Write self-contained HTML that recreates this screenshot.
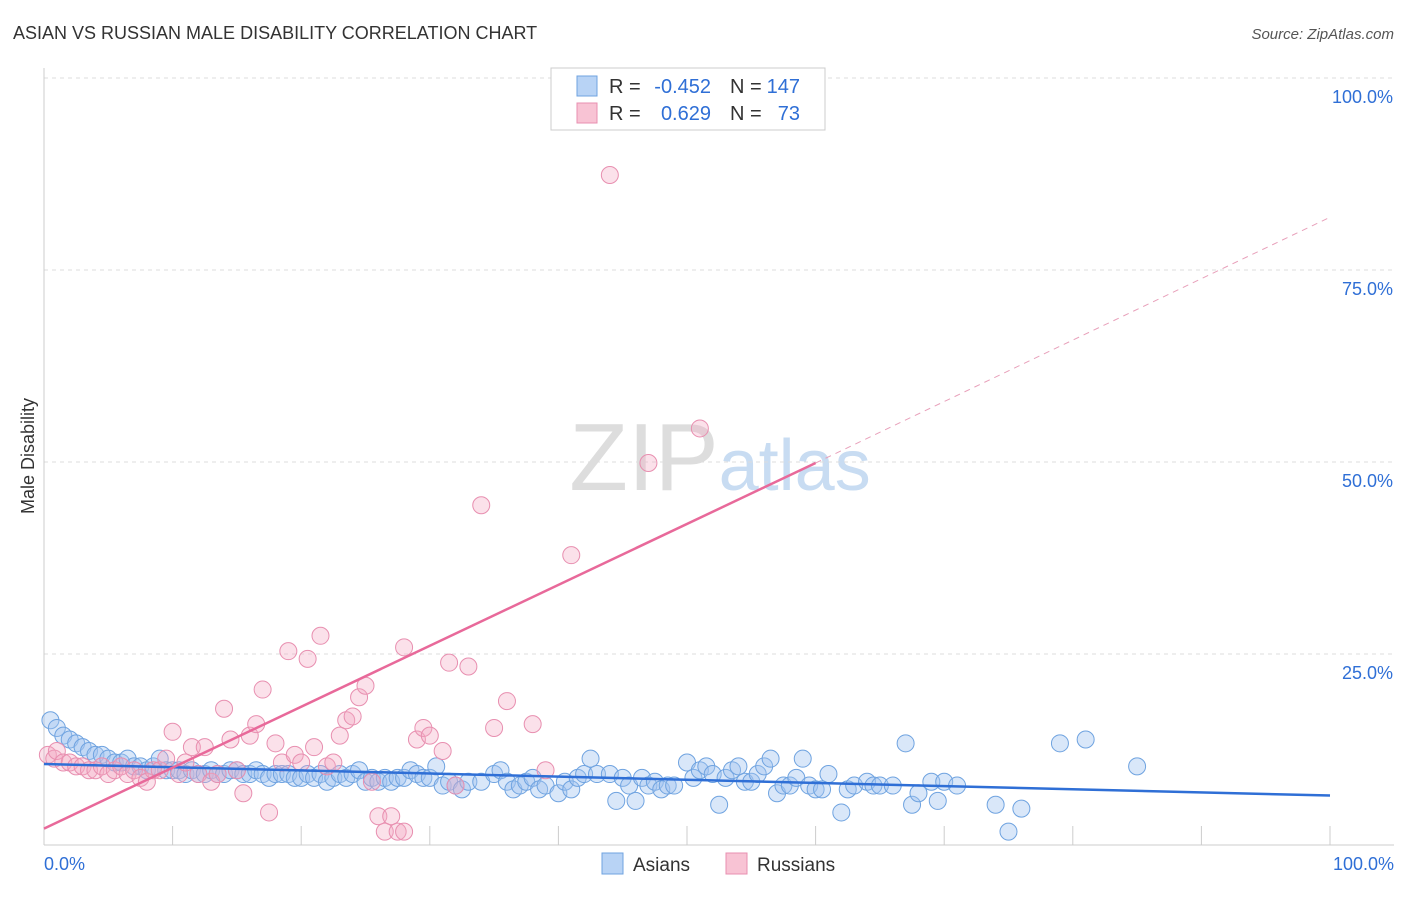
<!DOCTYPE html>
<html><head><meta charset="utf-8"><style>
body{margin:0;background:#fff;font-family:"Liberation Sans",sans-serif;}
svg text{font-family:"Liberation Sans",sans-serif;}
</style></head><body>
<svg id="chart" width="1406" height="892" xmlns="http://www.w3.org/2000/svg">
<text x="13" y="39" font-size="18" fill="#333">ASIAN VS RUSSIAN MALE DISABILITY CORRELATION CHART</text>
<text x="1394" y="39" font-size="15" fill="#555" text-anchor="end" font-style="italic">Source: ZipAtlas.com</text>
<text x="720" y="490" font-size="96" fill="#ddd" text-anchor="middle" font-family="Liberation Serif">ZIP<tspan fill="#c8dcf2" font-family="Liberation Sans" font-size="72">atlas</tspan></text>
<text transform="translate(34,456) rotate(-90)" font-size="18" fill="#333" text-anchor="middle">Male Disability</text>
<g id="grid"></g><g id="ticks"></g><g id="pts"></g><g id="trends"></g>
<g>
<rect x="551" y="68" width="274" height="62" fill="#fff" stroke="#ccc"/>
<rect x="577" y="76" width="20" height="20" fill="#b8d3f5" stroke="#6fa3e0"/>
<rect x="577" y="103" width="20" height="20" fill="#f8c3d4" stroke="#e88fb0"/>
<text x="609" y="93" font-size="20" fill="#333">R =</text>
<text x="711" y="93" font-size="20" fill="#2f6fd6" text-anchor="end">-0.452</text>
<text x="730" y="93" font-size="20" fill="#333">N =</text>
<text x="800" y="93" font-size="20" fill="#2f6fd6" text-anchor="end">147</text>
<text x="609" y="120" font-size="20" fill="#333">R =</text>
<text x="711" y="120" font-size="20" fill="#2f6fd6" text-anchor="end">0.629</text>
<text x="730" y="120" font-size="20" fill="#333">N =</text>
<text x="800" y="120" font-size="20" fill="#2f6fd6" text-anchor="end">73</text>
</g>
<g>
<rect x="602" y="853" width="21" height="21" fill="#b8d3f5" stroke="#6fa3e0"/>
<text x="633" y="871" font-size="19" fill="#333">Asians</text>
<rect x="726" y="853" width="21" height="21" fill="#f8c3d4" stroke="#e88fb0"/>
<text x="757" y="871" font-size="19" fill="#333">Russians</text>
</g>
</svg>
<script>
const yTicks=[25,50,75,100];
const xTickLabels=["0.0%","100.0%"];
const asianX=[0.5,1,1.5,2,2.5,3,3.5,4,4.5,5,5.5,6,6.5,7,7.5,8,8.5,9,9.5,10,10.5,11,11.5,12,12.5,13,13.5,14,14.5,15,15.5,16,16.5,17,17.5,18,18.5,19,19.5,20,20.5,21,21.5,22,22.5,23,23.5,24,24.5,25,25.5,26,26.5,27,27.5,28,28.5,29,29.5,30,30.5,31,31.5,32,32.5,33,34,35,35.5,36,36.5,37,37.5,38,38.5,39,40,40.5,41,41.5,42,42.5,43,44,44.5,45,45.5,46,46.5,47,47.5,48,48.5,49,50,50.5,51,51.5,52,52.5,53,53.5,54,54.5,55,55.5,56,56.5,57,57.5,58,58.5,59,59.5,60,60.5,61,62,62.5,63,64,64.5,65,66,67,67.5,68,69,69.5,70,71,74,75,76,79,81,85];
const asianY=[16.5,15.5,14.5,14,13.5,13,12.5,12,12,11.5,11,11,11.5,10.5,10.5,10,10.5,11.5,10,10,10,9.5,10,9.5,9.5,10,9.5,9.5,10,10,9.5,9.5,10,9.5,9,9.5,9.5,9.5,9,9,9.5,9,9.5,8.5,9,9.5,9,9.5,10,8.5,9,8.5,9,8.5,9,9,10,9.5,9,9,10.5,8,8.5,8,7.5,8.5,8.5,9.5,10,8.5,7.5,8,8.5,9,7.5,8,7,8.5,7.5,9,9.5,11.5,9.5,9.5,6,9,8,6,9,8,8.5,7.5,8,8,11,9,10,10.5,9.5,5.5,9,10,10.5,8.5,8.5,9.5,10.5,11.5,7,8,8,9,11.5,8,7.5,7.5,9.5,4.5,7.5,8,8.5,8,8,8,13.5,5.5,7,8.5,6,8.5,8,5.5,2,5,13.5,14,10.5];
const russianX=[0.3,0.8,1,1.5,2,2.5,3,3.5,4,4.5,5,5.5,6,6.5,7,7.5,8,8.5,9,9.5,10,10.5,11,11.5,12,12.5,13,13.5,14,14.5,15,15.5,16,16.5,17,17.5,18,18.5,19,19.5,20,20.5,21,21.5,22,22.5,23,23.5,24,24.5,25,25.5,26,26.5,27,27.5,28,28,29,29.5,30,31,31.5,32,33,34,35,36,38,39,41,44,47,51];
const russianY=[12,11.5,12.5,11,11,10.5,10.5,10,10,10.5,9.5,10,10.5,9.5,10,9,8.5,10,10,11.5,15,9.5,11,13,9.5,13,8.5,9.5,18,14,10,7,14.5,16,20.5,4.5,13.5,11,25.5,12,11,24.5,13,27.5,10.5,11,14.5,16.5,17,19.5,21,8.5,4,2,4,2,2,26,14,15.5,14.5,12.5,24,8,23.5,44.5,15.5,19,16,10,38,87.5,50,54.5];
const asianTrend=[10.8,6.7];
const russianTrend=[2.4,50,82];
const X0=44,X1=1330,Y0=847,YP=7.68;
const sx=v=>X0+(X1-X0)*v/100, sy=v=>Y0-v*YP;
const NS="http://www.w3.org/2000/svg";
function mk(t,a,p){const e=document.createElementNS(NS,t);for(const k in a)e.setAttribute(k,a[k]);p.appendChild(e);return e;}
const grid=document.getElementById('grid'),ticks=document.getElementById('ticks'),pts=document.getElementById('pts'),tr=document.getElementById('trends');
yTicks.forEach(v=>{
 const l=mk('line',{x1:44,x2:1394,y1:sy(v)-1,y2:sy(v)-1,stroke:'#ddd','stroke-dasharray':'4,4'},grid);
 
 
 const t=mk('text',{x:1393,y:sy(v)+24,'font-size':18,fill:'#2f6fd6','text-anchor':'end'},ticks);t.textContent=v.toFixed(1)+'%';
 
 
});
const xa=mk('line',{x1:44,x2:1394,y1:845,y2:845,stroke:'#ccc'},ticks);


const ya=mk('line',{x1:44,x2:44,y1:68,y2:845,stroke:'#ccc'},ticks);


for(let i=1;i<=10;i++){const l=mk('line',{x1:sx(i*10),x2:sx(i*10),y1:826,y2:845,stroke:'#ccc'},ticks);
 
 }
const xl0=mk('text',{x:44,y:870,'font-size':18,fill:'#2f6fd6'},ticks);xl0.textContent=xTickLabels[0];


const xl1=mk('text',{x:1394,y:870,'font-size':18,fill:'#2f6fd6','text-anchor':'end'},ticks);xl1.textContent=xTickLabels[1];


asianX.forEach((x,i)=>{const c=mk('circle',{cx:sx(x),cy:sy(asianY[i]),r:8.5,fill:'rgba(160,196,240,0.4)',stroke:'#6fa3e0','stroke-width':1},pts);
 
 });
russianX.forEach((x,i)=>{const c=mk('circle',{cx:sx(x),cy:sy(russianY[i]),r:8.5,fill:'rgba(244,170,195,0.35)',stroke:'#e88fb0','stroke-width':1},pts);
 
 });
const at=mk('line',{x1:sx(0),y1:sy(asianTrend[0]),x2:sx(100),y2:sy(asianTrend[1]),stroke:'#2f6fd6','stroke-width':2.5},tr);


const rt=mk('line',{x1:sx(0),y1:sy(russianTrend[0]),x2:sx(60),y2:sy(russianTrend[1]),stroke:'#e8699a','stroke-width':2.5},tr);


const rd=mk('line',{x1:sx(60),y1:sy(russianTrend[1]),x2:sx(100),y2:sy(russianTrend[2]),stroke:'#e8a0ba','stroke-width':1,'stroke-dasharray':'6,5'},tr);


</script>
</body></html>
